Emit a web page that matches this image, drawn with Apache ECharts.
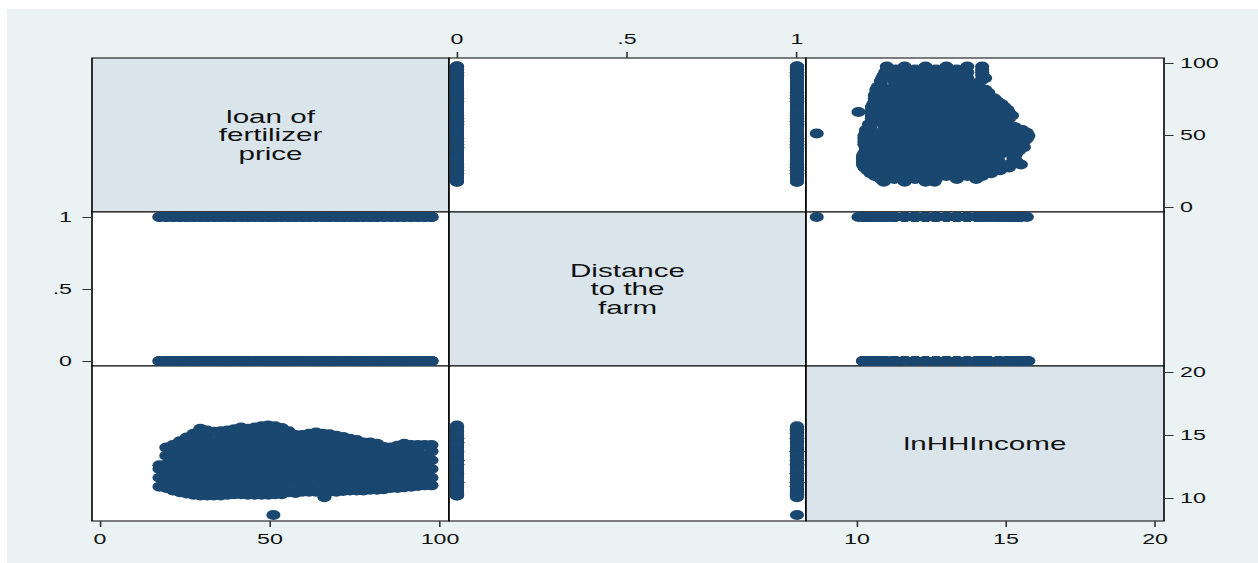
<!DOCTYPE html>
<html>
<head>
<meta charset="utf-8">
<title>Scatter matrix</title>
<script src="https://cdn.jsdelivr.net/npm/echarts@6/dist/echarts.min.js"></script>
<style>
  html, body { margin: 0; padding: 0; background: #fff; overflow: hidden; }
  #chart { position: absolute; left: 7px; top: 9px; transform-origin: 0 0; }
</style>
</head>
<body>
<div id="chart"></div>
<script>
// matrix variables, same order for rows and columns
const varLabels = ['loan of\nfertilizer\nprice', 'Distance\nto the\nfarm', 'lnHHIncome'];

const loanTicks = [0, 50, 100];
const distanceTicks = [0, 0.5, 1];
const incomeTicks = [10, 15, 20];

// households, grouped by loan of fertilizer price
const loanLevels = [
  17.5, 19.5, 21.5, 23.5, 25.5, 27.5, 29.5, 31.5, 33.5, 35.5, 37.5,
  39.5, 41.5, 43.5, 45.5, 47.5, 49.5, 51.5, 53.5, 55.5, 57.5, 59.5,
  61.5, 63.5, 65.5, 67.5, 69.5, 71.5, 73.5, 75.5, 77.5, 79.5, 81.5,
  83.5, 85.5, 87.5, 89.5, 91.5, 93.5, 95.5, 97.5
];

// lnHHIncome of households with distance = 0 (one list per loan level)
const incomeNear = [
  [10.9, 12.3],
  [11.25, 12.65, 14.0],
  [10.6, 11.6, 13.0, 14.2],
  [11.25, 12.65, 14.05],
  [10.35, 11.6, 13.0, 14.4],
  [10.55, 11.95, 13.35, 14.75],
  [10.2, 11.6, 13.0, 14.4, 15.5],
  [10.55, 11.95, 13.35, 14.75],
  [10.2, 11.6, 13.0, 14.4],
  [10.55, 11.95, 13.35, 14.75],
  [10.25, 11.6, 13.0, 14.4, 15.35],
  [10.55, 11.95, 13.35, 14.75],
  [10.3, 11.6, 13.0, 14.4, 15.6],
  [10.55, 11.95, 13.35, 14.75],
  [10.25, 11.6, 13.0, 14.4, 15.6],
  [10.55, 11.95, 13.35, 14.75, 15.7],
  [10.25, 11.6, 13.0, 14.4, 15.75],
  [10.55, 11.95, 13.35, 14.75],
  [10.3, 11.6, 13.0, 14.4, 15.55],
  [11.25, 12.65, 14.05, 15.3],
  [10.4, 11.6, 13.0, 14.4],
  [11.25, 12.65, 14.05, 15.0],
  [10.5, 11.6, 13.0, 14.4],
  [11.25, 12.65, 14.05, 15.2],
  [10.5, 11.6, 13.0, 14.4],
  [11.25, 12.65, 14.05, 15.05],
  [10.5, 11.6, 13.0, 14.4],
  [11.25, 12.65, 14.05],
  [10.6, 11.6, 13.0, 14.4],
  [11.25, 12.65, 14.05],
  [10.6, 11.6, 13.0, 14.4],
  [11.25, 12.65, 14.05],
  [10.65, 11.6, 13.0, 14.3],
  [11.25, 12.65, 14.05],
  [10.8, 12.3, 13.7],
  [11.25, 12.65, 14.15],
  [10.85, 12.3, 13.7],
  [11.25, 12.65, 14.2],
  [10.95, 12.3, 13.7],
  [11.3, 12.65, 14.2],
  [11.0, 12.3, 13.7]
];

// lnHHIncome of households with distance = 1
const incomeFar = [
  [11.6, 12.6],
  [10.8, 11.95, 13.35],
  [10.9, 12.3, 13.7],
  [10.45, 11.95, 13.35, 14.5],
  [10.9, 12.3, 13.7, 14.8],
  [10.25, 11.25, 12.65, 14.05, 15.1],
  [10.9, 12.3, 13.7, 15.1],
  [10.2, 11.25, 12.65, 14.05, 15.35],
  [10.9, 12.3, 13.7, 15.25],
  [10.2, 11.25, 12.65, 14.05, 15.3],
  [10.9, 12.3, 13.7, 15.1],
  [10.3, 11.25, 12.65, 14.05, 15.45],
  [10.9, 12.3, 13.7, 15.1],
  [10.25, 11.25, 12.65, 14.05, 15.5],
  [10.9, 12.3, 13.7, 15.1],
  [10.25, 11.25, 12.65, 14.05, 15.45],
  [10.9, 12.3, 13.7, 15.1],
  [10.3, 11.25, 12.65, 14.05, 15.45, 15.7],
  [10.9, 12.3, 13.7, 15.1],
  [10.45, 11.95, 13.35, 14.75],
  [10.9, 12.3, 13.7, 15.0],
  [10.5, 11.95, 13.35, 14.75],
  [10.9, 12.3, 13.7, 15.1],
  [10.5, 11.95, 13.35, 14.75],
  [10.9, 12.3, 13.7, 15.1],
  [10.5, 11.95, 13.35, 14.75],
  [10.9, 12.3, 13.7, 14.95],
  [10.55, 11.95, 13.35, 14.85],
  [10.9, 12.3, 13.7, 14.7],
  [10.6, 11.95, 13.35, 14.6],
  [10.9, 12.3, 13.7],
  [10.65, 11.95, 13.35, 14.4],
  [11.1, 12.3, 13.7],
  [10.7, 11.95, 13.35],
  [11.6, 13.0, 14.0],
  [10.8, 11.95, 13.35],
  [11.6, 13.0, 14.3],
  [10.9, 11.95, 13.35],
  [11.6, 13.0, 14.2],
  [11.0, 11.95, 13.35],
  [11.6, 13.0, 14.2]
];

// households off the levels (the two low-income outliers)
const otherLoan = [51, 66];
const otherDistance = [1, 1];
const otherIncome = [8.65, 10.05];

// observations as [loan, distance, income]
const obs = [];
loanLevels.forEach((l, k) => {
  incomeNear[k].forEach(v => obs.push([l, 0, v]));
  incomeFar[k].forEach(v => obs.push([l, 1, v]));
});
otherLoan.forEach((l, k) => obs.push([l, otherDistance[k], otherIncome[k]]));

// the stata export is stretched sideways, so draw narrow and scale the div
const S = 1.6;
const OX = 7, OY = 9;
const W = 1258 - OX, H = 563 - OY;
const dom = document.getElementById('chart');
dom.style.width = (W / S) + 'px';
dom.style.height = H + 'px';
dom.style.transform = 'scaleX(' + S + ')';

const colEdges = [92, 449, 806, 1164];
const rowEdges = [58, 212, 366, 521];
const colRange = [[-2.35, 102.65], [-0.0235, 1.0265], [8.29, 20.3]];
const rowRange = [[-3.47, 103.47], [-0.035, 1.035], [8.17, 20.48]];
const ticks = [loanTicks, distanceTicks, incomeTicks];

const fmt = v => (v === 0.5 ? '.5' : String(v));
const tickText = { fontFamily: 'Liberation Sans', fontSize: 14.5, color: '#111' };
const dot = 'path://M0 5A5 5 0 1 1 10 5A5 5 0 1 1 0 5Z';

const grid = [], xAxis = [], yAxis = [], series = [], graphic = [];
for (let r = 0; r < 3; r++) {
  for (let c = 0; c < 3; c++) {
    const i = r * 3 + c;
    const x0 = (colEdges[c] - OX) / S, x1 = (colEdges[c + 1] - OX) / S;
    const y0 = rowEdges[r] - OY, y1 = rowEdges[r + 1] - OY;
    grid.push({
      left: x0, top: y0, width: x1 - x0, height: y1 - y0,
      show: true,
      backgroundColor: r === c ? '#d9e5eb' : '#fff',
      borderColor: '#000', borderWidth: 1
    });
    const showX = c === 1 ? r === 0 : r === 2;
    const showY = r === 1 ? c === 0 : c === 2;
    xAxis.push({
      gridIndex: i, type: 'value',
      position: c === 1 ? 'top' : 'bottom',
      min: colRange[c][0], max: colRange[c][1],
      axisLine: { show: false, onZero: false }, splitLine: { show: false },
      axisTick: { show: showX, length: 6, customValues: ticks[c], lineStyle: { color: '#333' } },
      axisLabel: Object.assign({ show: showX, customValues: ticks[c], formatter: fmt, margin: c === 1 ? 12 : 10 }, tickText)
    });
    yAxis.push({
      gridIndex: i, type: 'value',
      position: r === 1 ? 'left' : 'right',
      min: rowRange[r][0], max: rowRange[r][1],
      axisLine: { show: false, onZero: false }, splitLine: { show: false },
      axisTick: { show: showY, length: 6, customValues: ticks[r], lineStyle: { color: '#333' } },
      axisLabel: Object.assign({ show: showY, customValues: ticks[r], formatter: fmt, margin: r === 1 ? 12.5 : 10 }, tickText)
    });
    if (r === c) {
      graphic.push({
        type: 'text', x: (x0 + x1) / 2, y: (y0 + y1) / 2, silent: true,
        style: {
          text: varLabels[r], fill: '#111', fontFamily: 'Liberation Sans', fontSize: 18.5,
          lineHeight: 18.7, align: 'center', verticalAlign: 'middle'
        }
      });
    } else {
      series.push({
        type: 'scatter', xAxisIndex: i, yAxisIndex: i, silent: true,
        symbol: dot, symbolSize: [8.8, 10],
        itemStyle: { color: '#1a476f', opacity: 1 },
        data: obs.map(o => [o[c], o[r]])
      });
    }
  }
}

const chart = echarts.init(dom, null, { renderer: 'svg' });
chart.setOption({
  animation: false,
  backgroundColor: '#eaf2f3',
  grid, xAxis, yAxis, series, graphic
});
</script>
</body>
</html>
